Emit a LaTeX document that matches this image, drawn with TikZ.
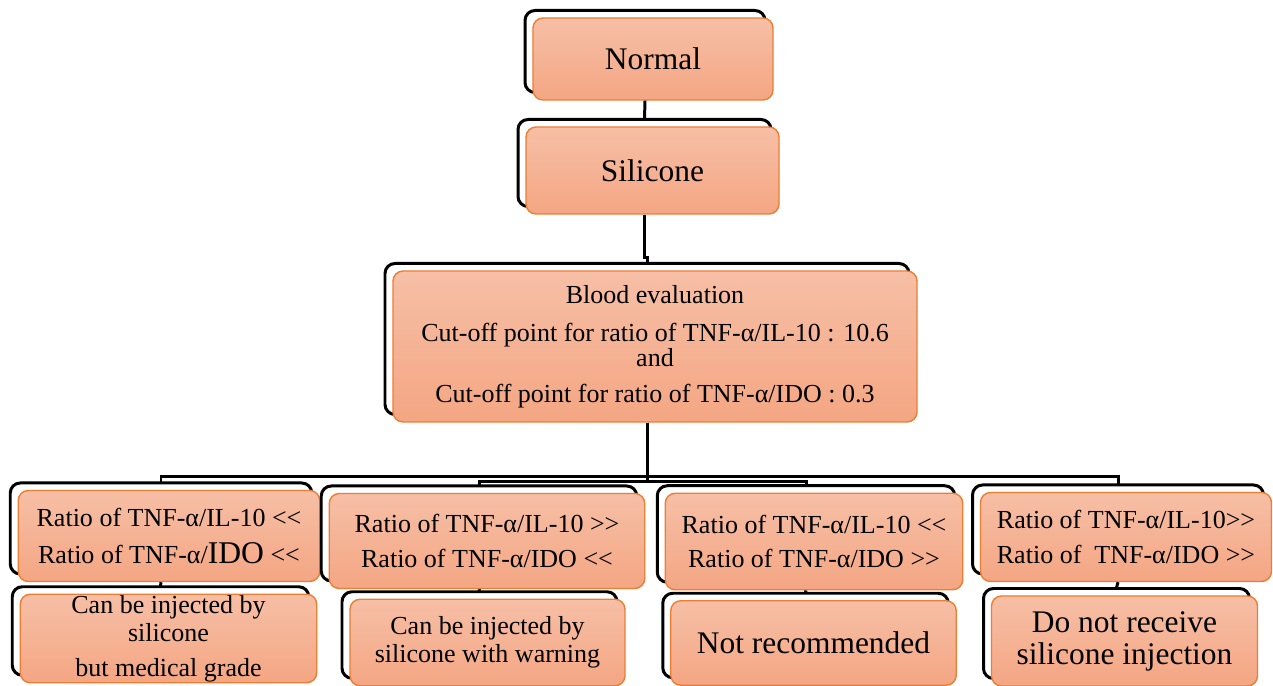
\documentclass[tikz,border=0pt]{standalone}
\usepackage{fontspec}
\setmainfont{Liberation Serif}
\usetikzlibrary{shadows}
\definecolor{zalmtop}{RGB}{246,191,166}
\definecolor{zalmbot}{RGB}{244,166,131}
\definecolor{rand}{RGB}{237,125,49}
\newcommand\kleiner{<\kern0pt<}
\newcommand\groter{>\kern0pt>}
\begin{document}
\begin{tikzpicture}[
       line width=1.7pt,
       box/.style={
         rectangle,
         rounded corners=0.2cm,
         draw=rand,
         line width=0.8pt,
         top color=zalmtop,
         bottom color=zalmbot,
         align=center,
         inner sep=0pt,
         font=\fontsize{14.8}{16}\selectfont,
         copy shadow={shadow xshift=-0.16cm,shadow yshift=0.15cm,
           draw=black,fill=white,line width=1.7pt}
       },
       big/.style={
         font=\fontsize{17.9}{18.2}\selectfont
       }
     ]

       \useasboundingbox (0,0) rectangle (25.46,13.72);

       \node (normal) at (13.06,12.54) [box,big,minimum width=4.8cm,minimum height=1.64cm] {Normal};
       \node (silicone) at (13.05,10.31) [box,big,minimum width=5.06cm,minimum height=1.74cm] {Silicone};
       \node (blood) at (13.10,6.79) [box,minimum width=10.48cm,minimum height=3.02cm]
         {Blood evaluation\\[5.5pt]Cut-off point for ratio of TNF-α/IL-10 : 10.6\\[-1.8pt]and\\[4.4pt]Cut-off point for ratio of TNF-α/IDO : 0.3};

       \node (r1) at (3.38,3.00) [box,minimum width=6.03cm,minimum height=1.82cm]
         {Ratio of TNF-α/IL-10 \kleiner\\[5.5pt]Ratio of TNF-α/{\fontsize{18}{18}\selectfont IDO} \kleiner};
       \node (r2) at (9.74,2.90) [box,minimum width=6.31cm,minimum height=1.90cm]
         {Ratio of TNF-α/IL-10 \groter\\[3.8pt]Ratio of TNF-α/IDO \kleiner};
       \node (r3) at (16.28,2.89) [box,minimum width=5.95cm,minimum height=1.93cm]
         {Ratio of TNF-α/IL-10 \kleiner\\[3.8pt]Ratio of TNF-α/IDO \groter};
       \node (r4) at (22.52,2.98) [box,minimum width=5.82cm,minimum height=1.78cm]
         {Ratio of TNF-α/IL-10\groter\\[4.4pt]Ratio of\ \ TNF-α/IDO \groter};

       \node (s1) at (3.37,0.95) [box,minimum width=5.93cm,minimum height=1.77cm]
         {Can be injected by\\silicone\\[3.8pt]but medical grade};
       \node (s2) at (9.75,0.87) [box,minimum width=5.50cm,minimum height=1.73cm]
         {Can be injected by\\silicone with warning};
       \node (s3) at (16.27,0.86) [box,big,minimum width=5.71cm,minimum height=1.69cm]
         {Not recommended};
       \node (s4) at (22.49,0.90) [box,big,minimum width=5.32cm,minimum height=1.80cm]
         {Do not receive\\silicone injection};

       \draw ([xshift=-0.16cm]normal.south) -- ([shift={(-0.16cm,0.15cm)}]silicone.north);
       \draw ([xshift=-0.16cm]silicone.south) -- ++(0,-0.86) -| ([shift={(-0.16cm,0.15cm)}]blood.north);

       \draw ([xshift=-0.16cm]blood.south) -- ++(0,-1.08) -| ([shift={(-0.16cm,0.15cm)}]r1.north);
       \draw ([xshift=-0.16cm]blood.south) -- ++(0,-1.18) -| ([shift={(-0.16cm,0.15cm)}]r2.north);
       \draw ([xshift=-0.16cm]blood.south) -- ++(0,-1.18) -| ([shift={(-0.16cm,0.15cm)}]r3.north);
       \draw ([xshift=-0.16cm]blood.south) -- ++(0,-1.08) -| ([shift={(-0.16cm,0.15cm)}]r4.north);

       \draw ([xshift=-0.16cm]r1.south) -- ([shift={(-0.16cm,0.15cm)}]s1.north);
       \draw ([xshift=-0.16cm]r2.south) -- ([shift={(-0.16cm,0.15cm)}]s2.north);
       \draw ([xshift=-0.16cm]r3.south) -- ([shift={(-0.16cm,0.15cm)}]s3.north);
       \draw ([xshift=-0.16cm]r4.south) -- ([shift={(-0.16cm,0.15cm)}]s4.north);

\end{tikzpicture}
\end{document}
